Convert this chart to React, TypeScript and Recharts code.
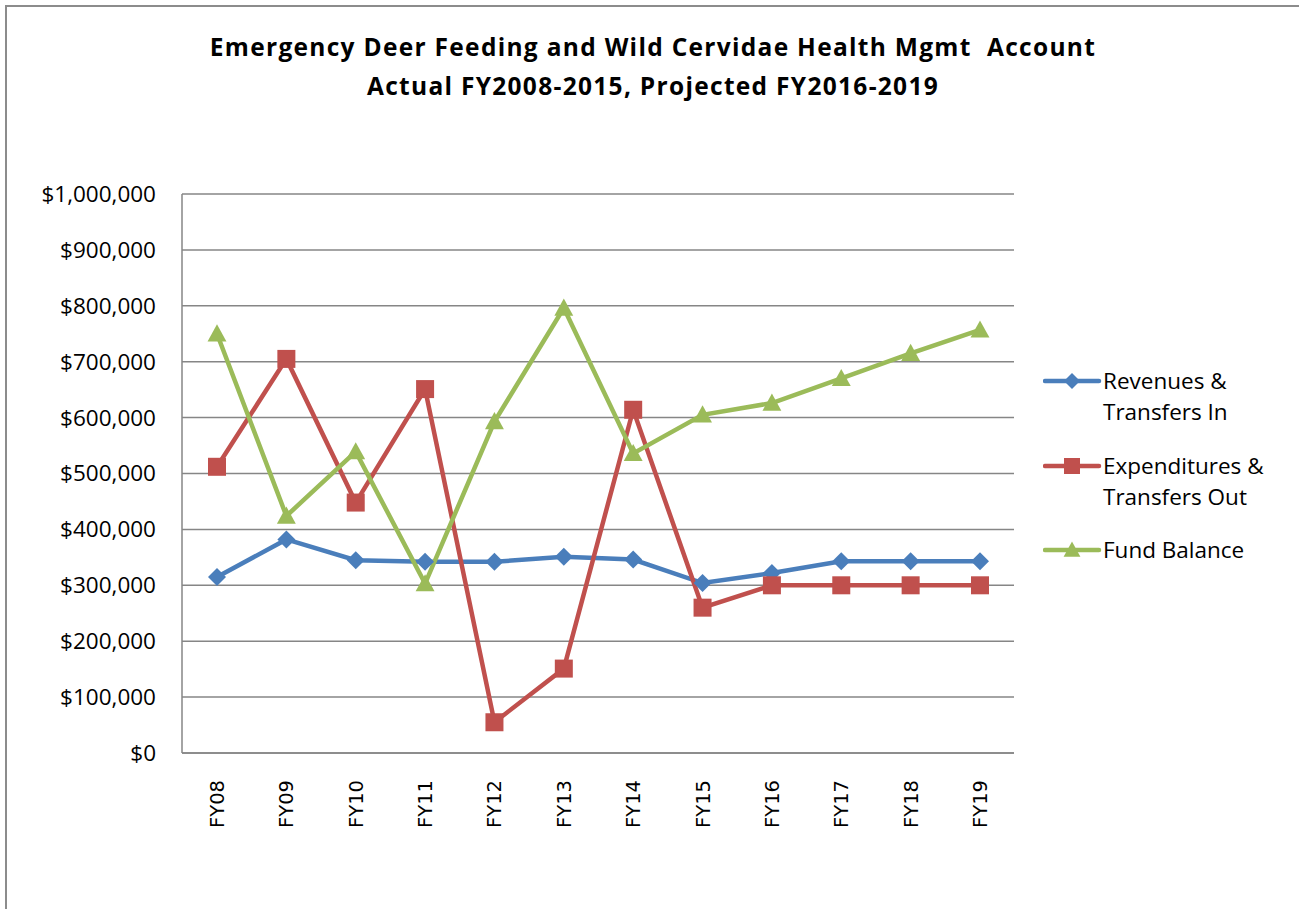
import React from "react";
import { LineChart, Line, XAxis, YAxis, CartesianGrid, Legend } from "recharts";

const years = ["FY08", "FY09", "FY10", "FY11", "FY12", "FY13", "FY14", "FY15", "FY16", "FY17", "FY18", "FY19"];
const revenues = [315000, 382000, 345000, 342000, 342000, 351000, 346000, 304000, 322000, 343000, 343000, 343000];
const expenditures = [512000, 705000, 448000, 651000, 55000, 151000, 614000, 260000, 300000, 300000, 300000, 300000];
const fundBalance = [750000, 424000, 539000, 303000, 593000, 796000, 536000, 605000, 626000, 670000, 715000, 757000];
const yTicks = [0, 100000, 200000, 300000, 400000, 500000, 600000, 700000, 800000, 900000, 1000000];

const data = years.map((fy, i) => ({
  fy,
  rev: revenues[i],
  exp: expenditures[i],
  bal: fundBalance[i],
}));

const series = [
  { key: "rev", name: ["Revenues &", "Transfers In"], color: "#4A7EBB", shape: "diamond" },
  { key: "exp", name: ["Expenditures &", "Transfers Out"], color: "#C0504D", shape: "square" },
  { key: "bal", name: ["Fund Balance"], color: "#9BBB59", shape: "triangle" },
];

const font = "'Open Sans', Lato, sans-serif";

const Marker = ({ shape, cx, cy, color, s }: any) => {
  if (shape === "diamond")
    return <path d={`M${cx},${cy - s} L${cx + s},${cy} L${cx},${cy + s} L${cx - s},${cy} Z`} fill={color} />;
  if (shape === "square")
    return <rect x={cx - s} y={cy - s} width={s * 2} height={s * 2} fill={color} />;
  return <path d={`M${cx},${cy - s * 1.05} L${cx + s * 1.05},${cy + s * 0.85} L${cx - s * 1.05},${cy + s * 0.85} Z`} fill={color} />;
};

const money = (v: number) => "$" + v.toLocaleString("en-US");

const LegendBox = () => (
  <div style={{ fontFamily: font, fontSize: 22.5, color: "#000" }}>
    {series.map((s, i) => (
      <div key={s.key} style={{ display: "flex", alignItems: "flex-start", marginBottom: i === 0 ? 23 : 22 }}>
        <svg width={60} height={31} style={{ flexShrink: 0 }}>
          <line x1={2} y1={16} x2={56} y2={16} stroke={s.color} strokeWidth={4.5} strokeLinecap="round" />
          <Marker shape={s.shape} cx={29} cy={16} color={s.color} s={8} />
        </svg>
        <div style={{ lineHeight: "31px" }}>
          {s.name.map((t) => (
            <div key={t}>{t}</div>
          ))}
        </div>
      </div>
    ))}
  </div>
);

const XTick = ({ x, y, payload }: any) => (
  <text
    x={0}
    y={0}
    transform={`translate(${x + 7},${y + 19}) rotate(-90)`}
    textAnchor="end"
    fontFamily="'DejaVu Sans', sans-serif"
    fontSize={19.5}
    fill="#000"
  >
    {payload.value}
  </text>
);

export default function App() {
  return (
    <div style={{ position: "absolute", left: 0, top: 0, width: 1299, height: 909, background: "#fff" }}>
      <div
        style={{
          position: "absolute",
          left: 5,
          top: 5,
          width: 1294,
          height: 904,
          borderTop: "2px solid #8c8c8c",
          borderLeft: "2px solid #8c8c8c",
        }}
      />
      <div
        style={{
          position: "absolute",
          left: 0,
          width: 1306,
          top: 27,
          textAlign: "center",
          fontFamily: font,
          fontWeight: 700,
          fontSize: 24.5,
          letterSpacing: 1.3,
          lineHeight: "39px",
          color: "#000",
        }}
      >
        <div>Emergency Deer Feeding and Wild Cervidae Health Mgmt&nbsp; Account</div>
        <div>Actual FY2008-2015, Projected FY2016-2019</div>
      </div>
      <div style={{ position: "absolute", left: 0, top: 0 }}>
        <LineChart width={1299} height={909} data={data} margin={{ top: 194, right: 285, bottom: 0, left: 0 }}>
          <CartesianGrid vertical={false} stroke="#868686" strokeWidth={1.5} />
          <XAxis
            dataKey="fy"
            height={156}
            padding={{ left: 35, right: 34 }}
            stroke="#868686"
            strokeWidth={1.5}
            tickLine={false}
            tick={<XTick />}
            interval={0}
          />
          <YAxis
            width={182}
            domain={[0, 1000000]}
            ticks={yTicks}
            tickFormatter={money}
            stroke="#868686"
            strokeWidth={1.5}
            tickLine={false}
            tickSize={0}
            tickMargin={26}
            tick={{ fontFamily: font, fontSize: 22.5, fill: "#000" }}
          />
          {series.map((s) => (
            <Line
              key={s.key}
              dataKey={s.key}
              stroke={s.color}
              strokeWidth={4.5}
              isAnimationActive={false}
              dot={(p: any) => <Marker key={`${s.key}-${p.index}`} shape={s.shape} cx={p.cx} cy={p.cy} color={s.color} s={9} />}
              activeDot={false}
            />
          ))}
          <Legend
            layout="vertical"
            align="center"
            verticalAlign="middle"
            content={() => <LegendBox />}
            wrapperStyle={{ left: 1043, top: 365, width: 256 }}
          />
        </LineChart>
      </div>
    </div>
  );
}
